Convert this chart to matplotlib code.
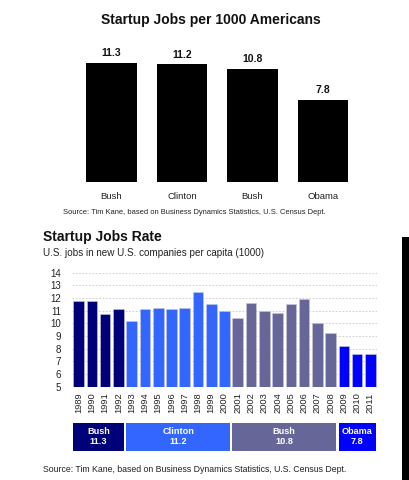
import matplotlib
matplotlib.use("Agg")
import matplotlib.pyplot as plt
from matplotlib.patches import Rectangle
from matplotlib.transforms import blended_transform_factory

plt.rcParams['font.family'] = ['Liberation Sans', 'DejaVu Sans']

# ---- data ----
presidents = ["Bush", "Clinton", "Bush", "Obama"]
avg_jobs = [11.3, 11.2, 10.8, 7.8]
term_first_idx = [0, 4, 12, 20]
term_last_idx = [3, 11, 19, 22]
pres_colors = ["#000078", "#3366ff", "#666699", "#0000ff"]

years = [1989, 1990, 1991, 1992, 1993, 1994, 1995, 1996, 1997, 1998, 1999, 2000,
         2001, 2002, 2003, 2004, 2005, 2006, 2007, 2008, 2009, 2010, 2011]
rates = [11.8, 11.8, 10.7, 11.1, 10.2, 11.1, 11.2, 11.1, 11.2, 12.45, 11.5, 11.0,
         10.4, 11.6, 11.0, 10.8, 11.5, 11.9, 10.0, 9.2, 8.25, 7.6, 7.6]
yticks = [5, 6, 7, 8, 9, 10, 11, 12, 13, 14]

W, H = 409, 480
fig = plt.figure(figsize=(W / 100, H / 100), dpi=100)

def px_axes(left, top, right, bottom):
    return fig.add_axes([left / W, 1 - bottom / H, (right - left) / W, (bottom - top) / H])

# ---- top chart ----
fig.text(211 / W, 1 - 20 / H, "Startup Jobs per 1000 Americans", ha="center", va="center",
         fontsize=10, fontweight="bold", color="#111111")
ax1 = px_axes(76.25, 56, 358.25, 182)
x1 = list(range(len(presidents)))
ax1.bar(x1, avg_jobs, width=0.72, color="black")
ax1.set_xlim(-0.5, 3.5)
ax1.set_ylim(0, 12)
for xi, v in zip(x1, avg_jobs):
    ax1.annotate(f"{v}", (xi, v), xytext=(0, 3.5), textcoords="offset points",
                 ha="center", va="bottom", fontsize=7.5, fontweight="bold", color="#111111",
                 annotation_clip=False)
ax1.set_xticks(x1)
ax1.set_xticklabels(presidents, fontsize=6.8, color="#222222")
ax1.tick_params(axis="x", length=0, pad=7)
ax1.set_yticks([])
for s in ax1.spines.values():
    s.set_visible(False)
fig.text(194.5 / W, 1 - 212 / H,
         "Source: Tim Kane, based on Business Dynamics Statistics, U.S. Census Dept.",
         ha="center", va="center", fontsize=5.4, color="#222222")

# ---- bottom chart ----
fig.text(43 / W, 1 - 237 / H, "Startup Jobs Rate", ha="left", va="center",
         fontsize=10, fontweight="bold", color="#111111")
fig.text(43 / W, 1 - 253 / H, "U.S. jobs in new U.S. companies per capita (1000)",
         ha="left", va="center", fontsize=7.1, color="#222222")

ax2 = px_axes(72, 272.7, 377, 386.7)
bar_colors = []
for i in range(len(years)):
    for k in range(len(presidents)):
        if term_first_idx[k] <= i <= term_last_idx[k]:
            bar_colors.append(pres_colors[k])
x2 = list(range(len(years)))
ax2.bar(x2, [r - 5 for r in rates], bottom=5, width=0.8, color=bar_colors,
        edgecolor="#c8c8e0", linewidth=0.4, zorder=3)
ax2.set_xlim(-0.5, len(years) - 0.5)
ax2.set_ylim(5, 14)
ax2.set_yticks(yticks)
ax2.set_yticklabels([str(t) for t in yticks], fontsize=7, color="#222222")
ax2.yaxis.grid(True, linestyle=(0, (2, 2)), color="#c8c8c8", linewidth=0.6, zorder=0)
ax2.set_xticks(x2)
ax2.set_xticklabels([str(y) for y in years], rotation=90, fontsize=6.7, color="#222222")
ax2.tick_params(axis="both", length=0)
ax2.tick_params(axis="x", pad=4)
ax2.tick_params(axis="y", pad=8)
for s in ax2.spines.values():
    s.set_visible(False)

tr = blended_transform_factory(ax2.transData, fig.transFigure)
box_bottom = 1 - 451 / H
box_h = (451 - 423) / H
for k in range(len(presidents)):
    x0 = term_first_idx[k] - 0.4
    x1b = term_last_idx[k] + 0.4
    ax2.add_patch(Rectangle((x0, box_bottom), x1b - x0, box_h, transform=tr,
                            facecolor=pres_colors[k], edgecolor="none", clip_on=False))
    xc = (x0 + x1b) / 2
    ax2.text(xc, 1 - 432 / H, presidents[k], transform=tr, ha="center", va="center",
             fontsize=6.6, fontweight="bold", color="white")
    ax2.text(xc, 1 - 442 / H, f"{avg_jobs[k]}", transform=tr, ha="center", va="center",
             fontsize=6.6, fontweight="bold", color="white")

fig.text(43 / W, 1 - 469 / H,
         "Source: Tim Kane, based on Business Dynamics Statistics, U.S. Census Dept.",
         ha="left", va="center", fontsize=6.3, color="#222222")

# black strip at right edge
fig.patches.append(Rectangle((401.7 / W, 0), (W - 401.7) / W, 1 - 237 / H,
                             transform=fig.transFigure, facecolor="black",
                             edgecolor="none", figure=fig))

fig.savefig("out.png", dpi=100)
